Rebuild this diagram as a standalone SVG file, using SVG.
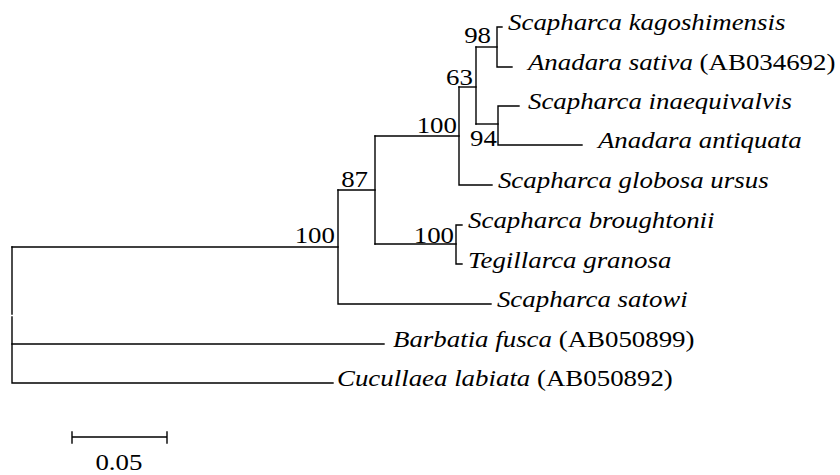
<svg xmlns="http://www.w3.org/2000/svg" width="840" height="475" viewBox="0 0 840 475">
<style>
.b{stroke:#000;stroke-width:1.4;fill:none;stroke-linecap:square}
text{font-family:"Liberation Serif","Times New Roman",serif;font-size:24px;fill:#000}
.sp{font-style:italic}
.lab{text-anchor:end}
</style>
<rect width="840" height="475" fill="#fff"/>
<g id="connectors">
<path class="b" d="M502,27H497V67H512"/>
<path class="b" d="M519,106H498V145H582"/>
<path class="b" d="M476,47H497"/>
<path class="b" d="M476,124H498"/>
<path class="b" d="M476,47V124"/>
<path class="b" d="M459,87H476"/>
<path class="b" d="M459,87V185H492"/>
<path class="b" d="M375,136H459"/>
<path class="b" d="M462,225H456V264H462"/>
<path class="b" d="M375,244H456"/>
<path class="b" d="M375,136V244"/>
<path class="b" d="M338,190H375"/>
<path class="b" d="M338,190V304H491"/>
<path class="b" d="M12,247H338"/>
<path class="b" d="M12,247V314"/>
<path class="b" d="M12,317V383H333"/>
<path class="b" d="M12,344H384"/>
</g>
<g transform="scale(1.12,1)">
<g id="leaf-kagoshimensis"><text class="sp" x="453.6" y="30">Scapharca kagoshimensis</text></g>
<g id="leaf-sativa"><text x="471.4" y="70"><tspan class="sp">Anadara sativa</tspan> (AB034692)</text></g>
<g id="leaf-inaequivalvis"><text class="sp" x="471.4" y="109.5">Scapharca inaequivalvis</text></g>
<g id="leaf-antiquata"><text class="sp" x="533.9" y="148.5">Anadara antiquata</text></g>
<g id="leaf-globosa"><text class="sp" x="444.6" y="188.5">Scapharca globosa ursus</text></g>
<g id="leaf-broughtonii"><text class="sp" x="417.9" y="228.5">Scapharca broughtonii</text></g>
<g id="leaf-granosa"><text class="sp" x="417.9" y="268">Tegillarca granosa</text></g>
<g id="leaf-satowi"><text class="sp" x="443.7" y="307.5">Scapharca satowi</text></g>
<g id="leaf-barbatia"><text x="350.9" y="347.5"><tspan class="sp">Barbatia fusca</tspan> (AB050899)</text></g>
<g id="leaf-cucullaea"><text x="300.9" y="386.5"><tspan class="sp">Cucullaea labiata</tspan> (AB050892)</text></g>
<g id="node-98"><text class="lab" x="438.4" y="43.5">98</text></g>
<g id="node-94"><text class="lab" x="443.7" y="146">94</text></g>
<g id="node-63"><text class="lab" x="422.3" y="85">63</text></g>
<g id="node-100a"><text class="lab" x="408" y="133">100</text></g>
<g id="node-100b"><text class="lab" x="405.4" y="243">100</text></g>
<g id="node-87"><text class="lab" x="328.6" y="187">87</text></g>
<g id="node-100c"><text class="lab" x="299.1" y="243.5">100</text></g>
<g id="scale-label"><text x="106.2" y="470" text-anchor="middle">0.05</text></g>
</g>
<g id="scale">
<path class="b" d="M72,437H167M72,432V443M167,432V443"/>
</g>
</svg>
